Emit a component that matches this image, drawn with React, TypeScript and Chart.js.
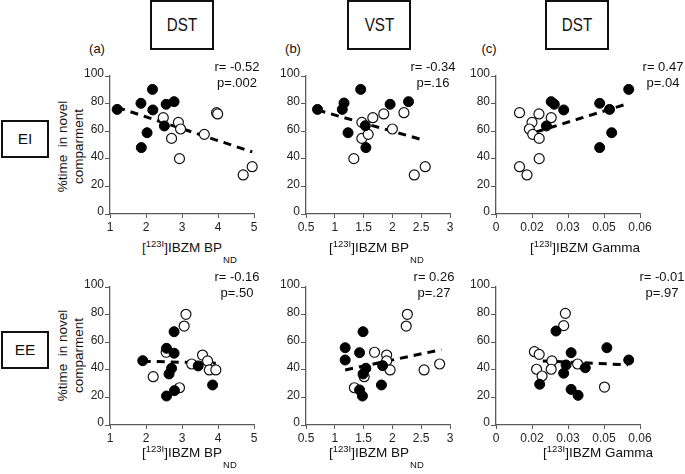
import React, { useEffect, useRef } from 'react';
import { Chart, registerables } from 'chart.js';

Chart.register(...registerables);

const FONT = "'Liberation Sans', Arial, Helvetica, sans-serif";

// ---------- tick values / labels ----------
const yTicks = [0, 20, 40, 60, 80, 100];
const bpTicksA = [1, 2, 3, 4, 5];
const bpLabelsA = ['1', '2', '3', '4', '5'];
const bpTicksB = [0.5, 1, 1.5, 2, 2.5, 3];
const bpLabelsB = ['0.5', '1', '1.5', '2', '2.5', '3'];
const gammaTicks = [0, 0.015, 0.03, 0.045, 0.06];
const gammaLabels = ['0', '0.02', '0.03', '0.05', '0.06'];

// ---------- EI row ----------
// (a) DST BPND
const eiDstFilledX = [1.2, 1.86, 2.18, 2.19, 2.56, 2.78, 2.51, 2.03, 1.87];
const eiDstFilledY = [75.8, 80.2, 90.3, 75.4, 79.5, 81.4, 63.8, 58.9, 48.1];
const eiDstOpenX = [2.48, 2.9, 2.96, 2.71, 2.93, 3.62, 3.96, 3.99, 4.7, 4.95];
const eiDstOpenY = [69.8, 66.4, 61.6, 54.8, 40.1, 57.7, 73.4, 72.5, 28.3, 34.3];
const eiDstLineX = [1.2, 4.95];
const eiDstLineY = [77.3, 45.0];
// (b) VST BPND
const eiVstFilledX = [0.7, 1.13, 1.16, 1.45, 1.23, 1.53, 1.54, 1.96, 2.28];
const eiVstFilledY = [75.8, 75.8, 80.4, 90.3, 58.9, 64.0, 48.1, 79.5, 81.4];
const eiVstOpenX = [1.47, 1.66, 1.85, 2.2, 1.47, 1.58, 2.0, 1.33, 2.38, 2.57];
const eiVstOpenY = [66.4, 69.8, 72.5, 73.4, 54.8, 57.7, 61.6, 40.1, 28.3, 34.3];
const eiVstLineX = [0.7, 2.57];
const eiVstLineY = [75.3, 53.2];
// (c) DST Gamma
const eiGamFilledX = [0.0553, 0.023, 0.0243, 0.0282, 0.0432, 0.0473, 0.021, 0.0482, 0.0432];
const eiGamFilledY = [90.3, 81.4, 79.5, 75.4, 80.2, 75.8, 63.8, 58.9, 48.1];
const eiGamOpenX = [0.0098, 0.0179, 0.023, 0.015, 0.0139, 0.0153, 0.018, 0.018, 0.0098, 0.0129];
const eiGamOpenY = [73.4, 72.5, 69.8, 66.4, 61.6, 57.7, 54.8, 40.1, 34.3, 28.3];
const eiGamLineX = [0.0165, 0.0553];
const eiGamLineY = [59.3, 80.2];

// ---------- EE row ----------
const eeDstFilledX = [1.91, 2.57, 2.78, 2.78, 2.71, 2.64, 2.57, 2.79, 3.45, 3.85];
const eeDstFilledY = [46.6, 55.6, 67.6, 52.0, 41.1, 37.0, 21.0, 24.9, 42.8, 29.0];
const eeDstOpenX = [3.11, 3.06, 2.56, 2.2, 2.93, 3.27, 3.57, 3.71, 3.76, 3.94];
const eeDstOpenY = [80.2, 71.7, 52.7, 35.0, 27.0, 44.2, 50.7, 46.4, 39.9, 39.9];
const eeDstLineX = [1.91, 3.94];
const eeDstLineY = [46.2, 44.8];

const eeVstFilledX = [1.18, 1.18, 1.43, 1.49, 1.54, 1.49, 1.43, 1.48, 1.83, 1.81];
const eeVstFilledY = [56.0, 47.1, 52.4, 67.6, 41.1, 37.0, 25.4, 21.0, 43.0, 29.0];
const eeVstOpenX = [2.26, 2.24, 1.69, 1.9, 1.9, 1.96, 1.51, 1.34, 2.55, 2.82];
const eeVstOpenY = [80.2, 71.7, 52.7, 50.7, 46.4, 39.9, 35.0, 27.0, 39.9, 44.2];
const eeVstLineX = [1.18, 2.85];
const eeVstLineY = [39.9, 54.6];

const eeGamFilledX = [0.025, 0.0313, 0.0292, 0.0282, 0.0182, 0.0313, 0.0342, 0.0372, 0.0462, 0.0553];
const eeGamFilledY = [68.1, 52.4, 43.5, 37.5, 29.5, 25.8, 21.5, 41.5, 56.0, 47.1];
const eeGamOpenX = [0.0289, 0.0282, 0.016, 0.018, 0.0233, 0.034, 0.0169, 0.023, 0.0192, 0.0452];
const eeGamOpenY = [80.9, 72.0, 53.1, 51.2, 46.4, 44.2, 40.4, 40.4, 35.5, 27.5];
const eeGamLineX = [0.0195, 0.055];
const eeGamLineY = [46.4, 43.6];

// ---------- texts ----------
const colTitles = ['DST', 'VST', 'DST'];
const colLetters = ['(a)', '(b)', '(c)'];
const rowTitles = ['EI', 'EE'];
const rTexts = ['r= -0.52', 'r= -0.34', 'r= 0.47', 'r= -0.16', 'r= 0.26', 'r= -0.01'];
const pTexts = ['p=.002', 'p=.16', 'p=.04', 'p=.50', 'p=.27', 'p=.97'];

// ---------- layout ----------
const PW = 144; // plot width
const PH = 138; // plot height
const YW = 40;
const PAD_T = 10;
const PAD_R = 24;
const XH = 24;
const CW = YW + PW + PAD_R;
const CH = PAD_T + PH + XH;
const AXIS = '#5a5a5a';
const colLeft = [110, 306, 496];
const rowTop = [76, 287];

type Panel = {
  fx: number[]; fy: number[]; ox: number[]; oy: number[];
  lx: number[]; ly: number[];
  ticks: number[]; labels: string[];
  left: number; top: number;
};

const panels: Panel[] = [
  { fx: eiDstFilledX, fy: eiDstFilledY, ox: eiDstOpenX, oy: eiDstOpenY, lx: eiDstLineX, ly: eiDstLineY, ticks: bpTicksA, labels: bpLabelsA, left: colLeft[0], top: rowTop[0] },
  { fx: eiVstFilledX, fy: eiVstFilledY, ox: eiVstOpenX, oy: eiVstOpenY, lx: eiVstLineX, ly: eiVstLineY, ticks: bpTicksB, labels: bpLabelsB, left: colLeft[1], top: rowTop[0] },
  { fx: eiGamFilledX, fy: eiGamFilledY, ox: eiGamOpenX, oy: eiGamOpenY, lx: eiGamLineX, ly: eiGamLineY, ticks: gammaTicks, labels: gammaLabels, left: colLeft[2], top: rowTop[0] },
  { fx: eeDstFilledX, fy: eeDstFilledY, ox: eeDstOpenX, oy: eeDstOpenY, lx: eeDstLineX, ly: eeDstLineY, ticks: bpTicksA, labels: bpLabelsA, left: colLeft[0], top: rowTop[1] },
  { fx: eeVstFilledX, fy: eeVstFilledY, ox: eeVstOpenX, oy: eeVstOpenY, lx: eeVstLineX, ly: eeVstLineY, ticks: bpTicksB, labels: bpLabelsB, left: colLeft[1], top: rowTop[1] },
  { fx: eeGamFilledX, fy: eeGamFilledY, ox: eeGamOpenX, oy: eeGamOpenY, lx: eeGamLineX, ly: eeGamLineY, ticks: gammaTicks, labels: gammaLabels, left: colLeft[2], top: rowTop[1] },
];

function ScatterPanel({ p }: { p: Panel }) {
  const ref = useRef<HTMLCanvasElement>(null);
  useEffect(() => {
    const pts = (xs: number[], ys: number[]) => xs.map((x, i) => ({ x, y: ys[i] }));
    const tickFont = { family: FONT, size: 12 };
    const chart = new Chart(ref.current as HTMLCanvasElement, {
      type: 'scatter',
      data: {
        datasets: [
          { data: pts(p.fx, p.fy), pointRadius: 5, pointBackgroundColor: '#000', pointBorderColor: '#000', pointBorderWidth: 1, clip: false } as any,
          { data: pts(p.ox, p.oy), pointRadius: 5, pointBackgroundColor: '#fff', pointBorderColor: '#111', pointBorderWidth: 1.2, clip: false } as any,
          { data: pts(p.lx, p.ly), showLine: true, borderColor: '#000', borderWidth: 3, borderDash: [8, 6], pointRadius: 0, clip: false } as any,
        ],
      },
      options: {
        responsive: false,
        animation: false,
        devicePixelRatio: 1,
        events: [],
        layout: { padding: { left: 0, top: PAD_T, right: PAD_R, bottom: 0 } },
        plugins: { legend: { display: false }, tooltip: { enabled: false } },
        scales: {
          x: {
            type: 'linear',
            min: p.ticks[0],
            max: p.ticks[p.ticks.length - 1],
            afterFit: (s: any) => { s.height = XH; },
            afterBuildTicks: (s: any) => { s.ticks = p.ticks.map((value) => ({ value })); },
            grid: { display: true, drawOnChartArea: false, drawTicks: true, tickLength: 4, color: AXIS, lineWidth: 1 },
            border: { display: true, color: AXIS, width: 1.3 },
            ticks: {
              color: '#222', font: tickFont, padding: 2, maxRotation: 0, autoSkip: false,
              callback: (_v: any, i: number) => p.labels[i],
            },
          },
          y: {
            type: 'linear',
            min: 0,
            max: 100,
            afterFit: (s: any) => { s.width = YW; },
            afterBuildTicks: (s: any) => { s.ticks = yTicks.map((value) => ({ value })); },
            grid: { display: true, drawOnChartArea: false, drawTicks: true, tickLength: 5, color: AXIS, lineWidth: 1 },
            border: { display: true, color: AXIS, width: 1.3 },
            ticks: { color: '#222', font: tickFont, padding: 1, labelOffset: -2, callback: (v: any) => String(v) },
          },
        },
      } as any,
    });
    return () => chart.destroy();
  }, []);
  return (
    <canvas
      ref={ref}
      width={CW}
      height={CH}
      style={{ position: 'absolute', left: p.left - YW, top: p.top - PAD_T, width: CW, height: CH, display: 'block' }}
    />
  );
}

const boxStyle: React.CSSProperties = {
  position: 'absolute',
  border: '2px solid #111',
  boxSizing: 'border-box',
  display: 'flex',
  alignItems: 'center',
  justifyContent: 'center',
  background: '#fff',
};

function XLabel({ left, top, gamma }: { left: number; top: number; gamma: boolean }) {
  return (
    <div style={{ position: 'absolute', left, top, fontSize: 13.5, lineHeight: '13.5px', whiteSpace: 'nowrap', color: '#111' }}>
      [<span style={{ fontSize: 9.5, position: 'relative', top: -5 }}>123I</span>]IBZM {gamma ? 'Gamma' : 'BP'}
      {gamma ? null : <span style={{ fontSize: 9.5, position: 'relative', top: 11, marginLeft: 1 }}>ND</span>}
    </div>
  );
}

function YLabel({ cy }: { cy: number }) {
  const w = 140;
  const h = 31;
  return (
    <div
      style={{
        position: 'absolute', left: 69.5 - w / 2, top: cy - h / 2, width: w, height: h,
        transform: 'rotate(-90deg)', textAlign: 'center', fontSize: 13.5, lineHeight: '15.5px',
        whiteSpace: 'pre', color: '#111',
      }}
    >
      {'%time  in novel\ncomparment'}
    </div>
  );
}

export default function App() {
  const colBoxLeft = [150, 347, 545];
  const colLetterX = [97, 293, 489];
  const rowBoxTop = [120, 331];
  const rpCenterX = [237, 433, 663, 237, 434, 662];
  const rpTopY = [75, 75, 75, 285, 285, 285];
  const xLabelLeft = [142, 329, 530, 142, 329, 543];
  const xLabelTop = [241, 241, 241, 446, 446, 446];
  return (
    <div style={{ position: 'absolute', left: 0, top: 0, width: 685, height: 474, background: '#fff', fontFamily: FONT, overflow: 'hidden' }}>
      {colTitles.map((t, i) => (
        <div key={'ct' + i} style={{ ...boxStyle, left: colBoxLeft[i], top: 0, width: 64, height: 50 }}>
          <span style={{ fontSize: 19, display: 'inline-block', transform: 'scaleX(0.8)', color: '#111' }}>{t}</span>
        </div>
      ))}
      {colLetters.map((t, i) => (
        <div key={'cl' + i} style={{ position: 'absolute', left: colLetterX[i], top: 48, transform: 'translate(-50%,-50%)', fontSize: 13, color: '#111' }}>{t}</div>
      ))}
      {rowTitles.map((t, i) => (
        <div key={'rt' + i} style={{ ...boxStyle, left: 1, top: rowBoxTop[i], width: 48, height: 38 }}>
          <span style={{ fontSize: 15.5, color: '#111' }}>{t}</span>
        </div>
      ))}
      <YLabel cy={146} />
      <YLabel cy={355} />
      {panels.map((p, i) => (
        <ScatterPanel key={'p' + i} p={p} />
      ))}
      {rTexts.map((t, i) => (
        <div key={'rp' + i} style={{ position: 'absolute', left: rpCenterX[i], top: rpTopY[i], transform: 'translate(-50%,-50%)', fontSize: 13, lineHeight: '16px', textAlign: 'center', whiteSpace: 'pre', color: '#111' }}>
          {t + '\n' + pTexts[i]}
        </div>
      ))}
      {xLabelLeft.map((l, i) => (
        <XLabel key={'xl' + i} left={l} top={xLabelTop[i]} gamma={i % 3 === 2} />
      ))}
    </div>
  );
}
